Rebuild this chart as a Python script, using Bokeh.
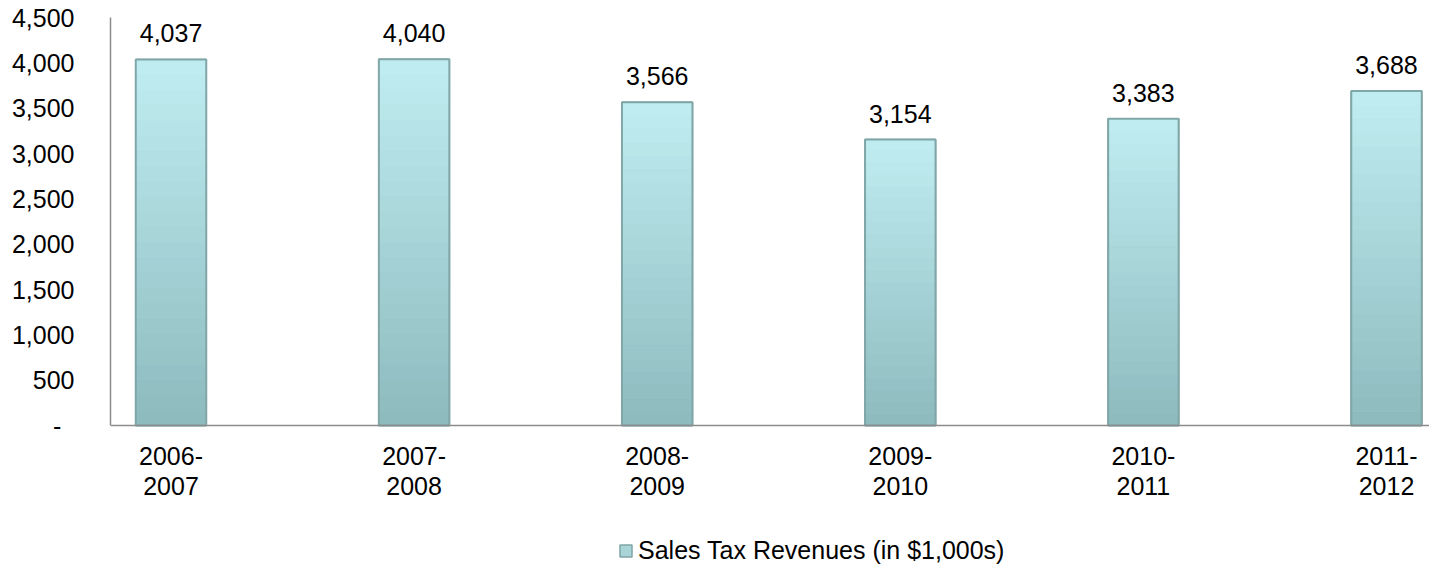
from bokeh.plotting import figure
from bokeh.models import (Range1d, FixedTicker, Legend, LegendItem, ColumnDataSource,
                          NumeralTickFormatter)
from bokeh.core.properties import value
from bokeh.embed import file_html
from bokeh.resources import INLINE

# ---- data ----
years = ["2006-\n2007", "2007-\n2008", "2008-\n2009", "2009-\n2010", "2010-\n2011", "2011-\n2012"]
revenues = [4037, 4040, 3566, 3154, 3383, 3688]
value_labels = ["4,037", "4,040", "3,566", "3,154", "3,383", "3,688"]
y_ticks = [0, 500, 1000, 1500, 2000, 2500, 3000, 3500, 4000, 4500]
series_name = "Sales Tax Revenues (in $1,000s)"

FONT = "Liberation Sans"
FS = "25px"
BAR_W = 0.29

xs = list(range(len(years)))
src = ColumnDataSource(dict(x=xs, top=revenues, label=value_labels))

# vertical colour shading of each bar (style only): slices as fractions of each bar's value
N = 24
top_rgb = (192, 237, 241)
bot_rgb = (141, 186, 189)
gx, gb, gt, gc = [], [], [], []
for k in range(N):
    f0, f1 = k / N, (k + 1) / N
    t = (k + 0.5) / N
    rgb = tuple(int(round(b + (a - b) * t)) for a, b in zip(top_rgb, bot_rgb))
    col = "#%02x%02x%02x" % rgb
    for xi, v in zip(xs, revenues):
        gx.append(xi); gb.append(v * f0); gt.append(v * f1); gc.append(col)
grad = ColumnDataSource(dict(x=gx, bottom=gb, top=gt, color=gc))

# frame spans the whole lower part so the legend can sit inside it;
# the x axis is pinned at y = 0
p = figure(width=1429, height=565, output_backend="svg", toolbar_location=None,
           x_range=Range1d(-0.2489, 5.1769), y_range=Range1d(-1544, 4500),
           min_border_left=110, min_border_right=0, min_border_top=17, min_border_bottom=0)
p.outline_line_color = None
p.grid.visible = False
p.background_fill_color = "white"
p.border_fill_color = "white"

bars = p.vbar(x="x", top="top", bottom=0, width=BAR_W, source=src,
              fill_color="#A9D5D8", line_color="#7FA5A7", line_width=1.5)
p.vbar(x="x", top="top", bottom="bottom", width=BAR_W, source=grad,
       fill_color="color", line_color="color", line_width=0.6)
p.vbar(x="x", top="top", bottom=0, width=BAR_W, source=src,
       fill_alpha=0, line_color="#80A6A8", line_width=2)

p.text(x="x", y="top", text="label", source=src, y_offset=-26,
       text_align="center", text_baseline="middle",
       text_font=value(FONT), text_font_size=FS, text_color="black")

# x axis
xa = p.xaxis[0]
xa.fixed_location = 0
xa.ticker = FixedTicker(ticks=xs)
xa.major_label_overrides = {i: y for i, y in zip(xs, years)}
xa.major_tick_line_color = None
xa.minor_tick_line_color = None
xa.axis_line_color = "#8C8C8C"
xa.axis_line_width = 1.5
xa.major_label_text_font = FONT
xa.major_label_text_font_size = FS
xa.major_label_text_line_height = 1.1
xa.major_label_text_color = "black"
xa.major_label_standoff = 10

# y axis
ya = p.yaxis[0]
ya.ticker = FixedTicker(ticks=y_ticks)
ya.bounds = (0, 4500)
ya.formatter = NumeralTickFormatter(format="0,0")
ya.major_label_overrides = {0: "-\u00a0\u2005"}
ya.major_tick_line_color = None
ya.minor_tick_line_color = None
ya.axis_line_color = "#8C8C8C"
ya.axis_line_width = 1.5
ya.major_label_text_font = FONT
ya.major_label_text_font_size = FS
ya.major_label_text_color = "black"
ya.major_label_standoff = 30

legend = Legend(items=[LegendItem(label=series_name, renderers=[bars])],
                location=(508, 0), padding=0, margin=0,
                border_line_alpha=0, background_fill_alpha=0,
                glyph_width=15, glyph_height=15, label_standoff=5,
                label_text_font=FONT, label_text_font_size=FS, label_text_color="black")
p.add_layout(legend, "center")

open("out.html", "w").write(file_html(p, INLINE))
